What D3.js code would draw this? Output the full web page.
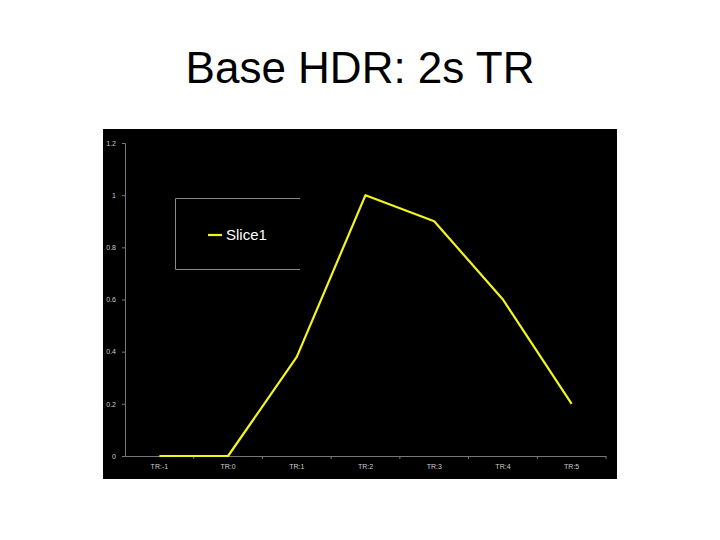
<!DOCTYPE html>
<html>
<head>
<meta charset="utf-8">
<script src="https://cdn.jsdelivr.net/npm/d3@7.9.0/dist/d3.min.js"></script>
<style>
  body { margin: 0; background: #fff; }
  svg { display: block; font-family: "Liberation Sans", Arial, sans-serif; }
</style>
</head>
<body>
<svg id="chart" width="720" height="540"></svg>
<script>
let categories = ['TR:-1', 'TR:0', 'TR:1', 'TR:2', 'TR:3', 'TR:4', 'TR:5'];
let slice1 = [0, 0, 0.38, 1.0, 0.9, 0.6, 0.2];
let yTicks = [0, 0.2, 0.4, 0.6, 0.8, 1, 1.2];
let seriesName = 'Slice1';
let title = 'Base HDR: 2s TR';

let svg = d3.select('#chart');

svg.append('text')
  .attr('x', 360)
  .attr('y', 83)
  .attr('text-anchor', 'middle')
  .attr('font-size', 44)
  .attr('fill', '#000')
  .text(title);

// black plot panel
svg.append('rect')
  .attr('x', 103).attr('y', 129)
  .attr('width', 514).attr('height', 350)
  .attr('fill', '#000');

let margin = { left: 125, right: 606, top: 143, bottom: 456 };

let x = d3.scaleBand()
  .domain(categories)
  .range([margin.left, margin.right]);

let y = d3.scaleLinear()
  .domain([0, 1.2])
  .range([margin.bottom, margin.top]);

// y axis
let yAxis = svg.append('g')
  .attr('transform', `translate(${margin.left},0)`)
  .call(d3.axisLeft(y).tickValues(yTicks).tickSize(3).tickPadding(6)
    .tickFormat(d => d3.format('')(d)));
yAxis.select('.domain').attr('stroke', '#777');
yAxis.selectAll('.tick line').attr('stroke', '#777');
yAxis.selectAll('.tick text').attr('fill', '#ccc').attr('font-size', 7);

// x axis
let xAxis = svg.append('g')
  .attr('transform', `translate(0,${margin.bottom})`)
  .call(d3.axisBottom(x).tickSize(0).tickPadding(8));
xAxis.select('.domain').attr('stroke', '#777');
xAxis.selectAll('.tick text').attr('fill', '#ccc').attr('font-size', 7);

// band boundary ticks
svg.append('g')
  .selectAll('line')
  .data(categories.slice(1).concat(['end']))
  .join('line')
  .attr('x1', (d, i) => i < categories.length - 1 ? x(d) : margin.right)
  .attr('x2', (d, i) => i < categories.length - 1 ? x(d) : margin.right)
  .attr('y1', margin.bottom)
  .attr('y2', margin.bottom + 3)
  .attr('stroke', '#777');

// series line
let line = d3.line()
  .x((d, i) => x(categories[i]) + x.bandwidth() / 2)
  .y(d => y(d));

svg.append('path')
  .datum(slice1)
  .attr('d', line)
  .attr('fill', 'none')
  .attr('stroke', '#f4f41e')
  .attr('stroke-width', 2.2)
  .attr('stroke-linejoin', 'round');

// legend (open on the right side)
let legend = svg.append('g');
legend.append('path')
  .attr('d', 'M300,198.5 H175.5 V269.5 H300')
  .attr('fill', 'none')
  .attr('stroke', '#888')
  .attr('stroke-width', 1);
legend.append('line')
  .attr('x1', 208).attr('x2', 222)
  .attr('y1', 235).attr('y2', 235)
  .attr('stroke', '#f4f41e')
  .attr('stroke-width', 2.2);
legend.append('text')
  .attr('x', 226)
  .attr('y', 240)
  .attr('font-size', 15)
  .attr('fill', '#fff')
  .text(seriesName);
</script>
</body>
</html>
